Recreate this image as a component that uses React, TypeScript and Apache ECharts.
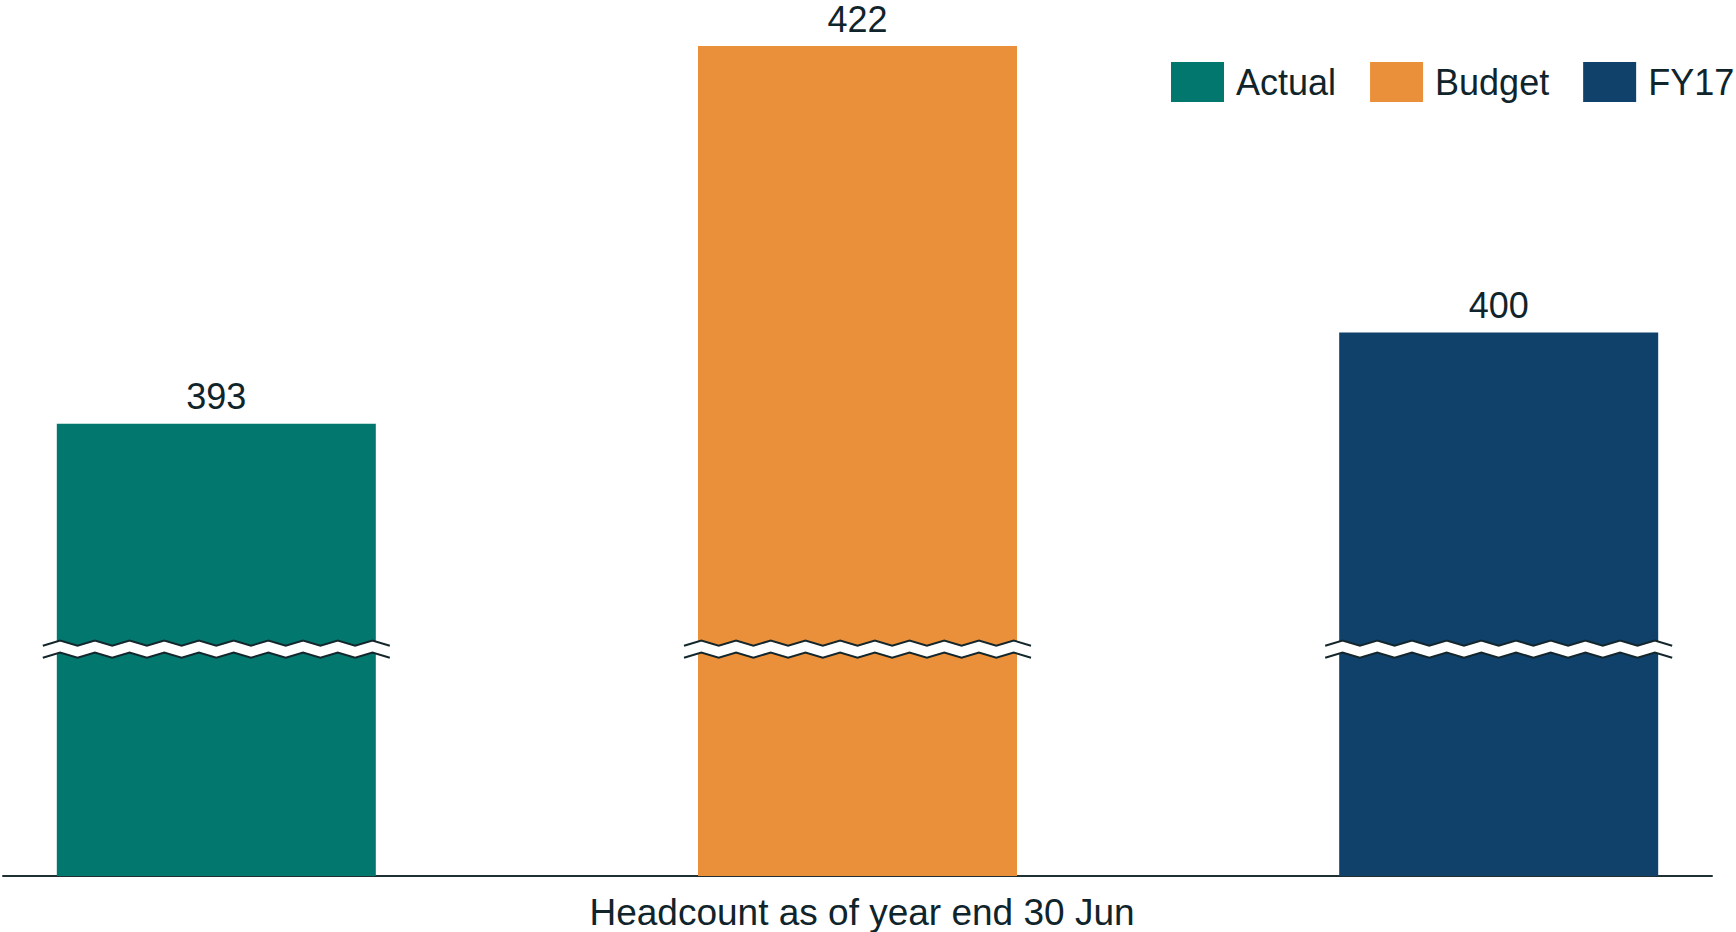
import React, { useEffect, useRef } from "react";
import * as echarts from "echarts";

// Headcount figures at year end
const CATEGORIES = ["Headcount as of year end 30 Jun"];
const SERIES_NAMES = ["Actual", "Budget", "FY17"];
const SERIES_VALUES = [393, 422, 400];
const SERIES_COLORS = ["#02776e", "#eb903a", "#0f416b"];

// Visible value window of the broken value axis, and where the break sits
const AXIS_MIN = 358.28;
const AXIS_MAX = 422;
const BREAK_VALUE = 375.7;

const BAR_WIDTH = 319;
const BAR_GAP = 1.01; // fraction of bar width
const TEXT_COLOR = "#10242b";
const FONT = "'Liberation Sans', Arial, sans-serif";

function zigzag(x0: number, x1: number, yMid: number, amp: number, periods: number) {
  const pts: number[][] = [];
  const steps = periods * 2;
  for (let k = 0; k <= steps; k++) {
    const x = x0 + ((x1 - x0) * k) / steps;
    const y = k % 2 === 0 ? yMid + amp : yMid - amp;
    pts.push([x, y]);
  }
  return pts;
}

export default function App() {
  const ref = useRef<HTMLDivElement>(null);

  useEffect(() => {
    if (!ref.current) return;
    const chart = echarts.init(ref.current, undefined, { renderer: "svg" });

    const barSeries = SERIES_NAMES.map((name, i) => ({
      name,
      type: "bar",
      data: [SERIES_VALUES[i]],
      barWidth: BAR_WIDTH,
      barGap: `${BAR_GAP * 100}%`,
      itemStyle: { color: SERIES_COLORS[i] },
      label: {
        show: true,
        position: "top",
        distance: 9,
        fontSize: 36,
        fontFamily: FONT,
        color: TEXT_COLOR,
      },
    }));

    // Break marks drawn across each bar
    const breakSeries = {
      type: "custom",
      clip: false,
      silent: true,
      z: 5,
      data: SERIES_NAMES.map((_, i) => [0, BREAK_VALUE, i]),
      encode: { x: 0, y: 1 },
      renderItem: (_params: any, api: any) => {
        const c = api.coord([api.value(0), api.value(1)]);
        const idx = api.value(2);
        const n = SERIES_NAMES.length;
        const gapPx = BAR_WIDTH * BAR_GAP;
        const total = n * BAR_WIDTH + (n - 1) * gapPx;
        const left = c[0] - total / 2 + idx * (BAR_WIDTH + gapPx);
        const ext = 14;
        const x0 = left - ext;
        const x1 = left + BAR_WIDTH + ext;
        const upper = zigzag(x0, x1, c[1] - 6, 2.6, 10);
        const lower = zigzag(x0, x1, c[1] + 6, 2.6, 10);
        const band = upper.concat(lower.slice().reverse());
        return {
          type: "group",
          children: [
            { type: "polygon", shape: { points: band }, style: { fill: "#ffffff" } },
            {
              type: "polyline",
              shape: { points: upper },
              style: { stroke: "#13262c", lineWidth: 2, fill: "none" },
            },
            {
              type: "polyline",
              shape: { points: lower },
              style: { stroke: "#13262c", lineWidth: 2, fill: "none" },
            },
          ],
        };
      },
    };

    chart.setOption({
      animation: false,
      backgroundColor: "#ffffff",
      grid: {
        left: 3,
        right: 24,
        top: 46,
        bottom: 56,
        containLabel: false,
        outerBoundsMode: "none",
      },
      legend: {
        data: SERIES_NAMES,
        left: 1171,
        top: 62,
        width: 600,
        padding: 0,
        icon: "rect",
        itemWidth: 53,
        itemHeight: 40,
        itemGap: 34,
        textStyle: {
          fontSize: 36,
          fontFamily: FONT,
          color: TEXT_COLOR,
          padding: [0, 0, 0, 7],
        },
      },
      xAxis: {
        type: "category",
        data: CATEGORIES,
        name: CATEGORIES[0],
        nameLocation: "middle",
        nameGap: 18,
        nameTextStyle: {
          fontSize: 37,
          fontFamily: FONT,
          color: TEXT_COLOR,
          padding: [0, 0, 0, 9],
        },
        axisLine: { show: true, lineStyle: { color: "#1f3035", width: 2 } },
        axisTick: { show: false },
        axisLabel: { show: false },
      },
      yAxis: {
        type: "value",
        min: AXIS_MIN,
        max: AXIS_MAX,
        show: false,
        splitLine: { show: false },
      },
      series: [...barSeries, breakSeries],
    });

    return () => chart.dispose();
  }, []);

  return (
    <div
      ref={ref}
      style={{ position: "fixed", left: 0, top: 0, width: 1736, height: 932 }}
    />
  );
}
